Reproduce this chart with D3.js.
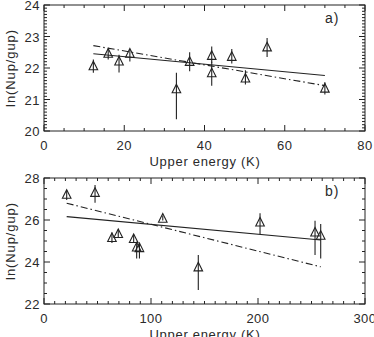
<!DOCTYPE html>
<html>
<head>
<meta charset="utf-8">
<script src="https://cdn.jsdelivr.net/npm/d3@7"></script>
<style>
    body { margin: 0; background: #fff; }
    svg { display: block; }
    text { font-family: "Liberation Sans", Arial, sans-serif; fill: #2a2a2a; }
</style>
</head>
<body>
<script>
// panel a) data
const energy_a = [12.3, 16.0, 18.7, 21.4, 33.0, 36.3, 41.8, 41.8, 46.8, 50.2, 55.6, 70.0];
const ln_a = [22.08, 22.48, 22.23, 22.48, 21.35, 22.22, 22.41, 21.86, 22.38, 21.69, 22.68, 21.37];
const ln_a_hi = [22.27, 22.60, 22.42, 22.58, 21.85, 22.50, 22.68, 22.20, 22.60, 21.93, 22.95, 21.55];
const ln_a_lo = [21.85, 22.27, 21.86, 22.21, 20.37, 21.90, 22.17, 21.44, 22.14, 21.48, 22.35, 21.16];
const fit_a_x = [12.3, 70.0];
const fit_a_solid = [22.45, 21.76];
const fit_a_dashdot = [22.71, 21.44];

// panel b) data
const energy_b = [21.2, 47.7, 63.5, 69.4, 83.8, 86.6, 89.2, 111.0, 144.2, 201.9, 253.3, 258.6];
const ln_b = [27.24, 27.33, 25.18, 25.37, 25.13, 24.73, 24.70, 26.10, 23.78, 25.92, 25.44, 25.29];
const ln_b_hi = [27.43, 27.67, 25.40, 25.55, 25.30, 24.95, 24.90, 26.22, 24.33, 26.32, 25.96, 25.81];
const ln_b_lo = [26.95, 26.82, 24.90, 25.15, 24.90, 24.17, 24.17, 25.98, 22.67, 25.33, 24.33, 24.17];
const fit_b_x = [21.2, 258.6];
const fit_b_solid = [26.16, 25.05];
const fit_b_dashdot = [26.80, 23.77];

const W = 374, H = 337;
const INK = "#222";

const svg = d3.select("body").append("svg")
    .attr("width", W)
    .attr("height", H);

// draw one IDL-style panel
const draw_panel = function (cfg) {
    const x = d3.scaleLinear().domain(cfg.xdom).range([44, 365]);
    const y = d3.scaleLinear().domain(cfg.ydom).range([cfg.bottom, cfg.top]);
    const g = svg.append("g");

    // frame
    g.append("rect")
        .attr("x", x.range()[0]).attr("y", cfg.top)
        .attr("width", x.range()[1] - x.range()[0])
        .attr("height", cfg.bottom - cfg.top)
        .attr("fill", "none").attr("stroke", INK).attr("stroke-width", 1);

    // ticks pointing inward on all four sides
    const xminor = d3.range(cfg.xdom[0], cfg.xdom[1] + 1e-9, cfg.xminor);
    const yminor = d3.range(cfg.ydom[0], cfg.ydom[1] + 1e-9, cfg.yminor);
    const isMajor = (v, step) => Math.abs(v / step - Math.round(v / step)) < 1e-6;

    xminor.forEach(v => {
        const len = isMajor(v, cfg.xmajor) ? 6 : 3;
        g.append("line").attr("x1", x(v)).attr("x2", x(v))
            .attr("y1", cfg.bottom).attr("y2", cfg.bottom - len)
            .attr("stroke", INK);
        g.append("line").attr("x1", x(v)).attr("x2", x(v))
            .attr("y1", cfg.top).attr("y2", cfg.top + len)
            .attr("stroke", INK);
    });
    yminor.forEach(v => {
        const len = isMajor(v, cfg.ymajor) ? 6 : 3;
        g.append("line").attr("x1", 44).attr("x2", 44 + len)
            .attr("y1", y(v)).attr("y2", y(v)).attr("stroke", INK);
        g.append("line").attr("x1", 365).attr("x2", 365 - len)
            .attr("y1", y(v)).attr("y2", y(v)).attr("stroke", INK);
    });

    // tick labels
    g.selectAll("text.xt")
        .data(d3.range(cfg.xdom[0], cfg.xdom[1] + 1e-9, cfg.xmajor))
        .enter().append("text")
        .attr("x", d => x(d)).attr("y", cfg.bottom + 19)
        .attr("text-anchor", "middle")
        .style("font-size", "13px")
        .style("letter-spacing", "0.5px")
        .text(d => d);
    g.selectAll("text.yt")
        .data(d3.range(cfg.ydom[0], cfg.ydom[1] + 1e-9, cfg.ymajor))
        .enter().append("text")
        .attr("x", 40).attr("y", d => y(d) + 5)
        .attr("text-anchor", "end")
        .style("font-size", "13px")
        .style("letter-spacing", "0.5px")
        .text(d => d);

    // axis titles
    g.append("text")
        .attr("x", 205).attr("y", cfg.bottom + 35)
        .attr("text-anchor", "middle")
        .style("font-size", "13px")
        .style("letter-spacing", "0.7px")
        .text("Upper energy (K)");
    g.append("text")
        .attr("transform", `translate(15,${(cfg.top + cfg.bottom) / 2}) rotate(-90)`)
        .attr("text-anchor", "middle")
        .style("font-size", "13px")
        .style("letter-spacing", "0.9px")
        .text("ln(Nup/gup)");
    g.append("text")
        .attr("x", 325).attr("y", cfg.top + 18)
        .style("font-size", "14px")
        .style("letter-spacing", "1px")
        .text(cfg.label);

    // fit lines
    const line = d3.line().x(d => x(d[0])).y(d => y(d[1]));
    g.append("path")
        .attr("d", line(d3.zip(cfg.fx, cfg.fsolid)))
        .attr("fill", "none").attr("stroke", INK).attr("stroke-width", 1.1);
    g.append("path")
        .attr("d", line(d3.zip(cfg.fx, cfg.fdash)))
        .attr("fill", "none").attr("stroke", INK).attr("stroke-width", 1.1)
        .attr("stroke-dasharray", "7,3,1.5,3");

    // error bars
    g.selectAll("line.err")
        .data(d3.range(cfg.ex.length))
        .enter().append("line")
        .attr("x1", i => x(cfg.ex[i])).attr("x2", i => x(cfg.ex[i]))
        .attr("y1", i => y(cfg.hi[i])).attr("y2", i => y(cfg.lo[i]))
        .attr("stroke", INK).attr("stroke-width", 1.1);

    // triangles
    const s = 4.3;
    g.selectAll("path.tri")
        .data(d3.range(cfg.ex.length))
        .enter().append("path")
        .attr("d", i => {
            const cx = x(cfg.ex[i]), cy = y(cfg.ey[i]);
            return `M${cx - s},${cy + s}L${cx},${cy - s}L${cx + s},${cy + s}Z`;
        })
        .attr("fill", "none").attr("stroke", INK).attr("stroke-width", 1.1);
};

draw_panel({
    xdom: [0, 80], ydom: [20, 24], top: 5, bottom: 131,
    xmajor: 20, xminor: 5, ymajor: 1, yminor: 0.1, label: "a)",
    ex: energy_a, ey: ln_a, hi: ln_a_hi, lo: ln_a_lo,
    fx: fit_a_x, fsolid: fit_a_solid, fdash: fit_a_dashdot
});

draw_panel({
    xdom: [0, 300], ydom: [22, 28], top: 178, bottom: 304,
    xmajor: 100, xminor: 10, ymajor: 2, yminor: 0.5, label: "b)",
    ex: energy_b, ey: ln_b, hi: ln_b_hi, lo: ln_b_lo,
    fx: fit_b_x, fsolid: fit_b_solid, fdash: fit_b_dashdot
});
</script>
</body>
</html>
